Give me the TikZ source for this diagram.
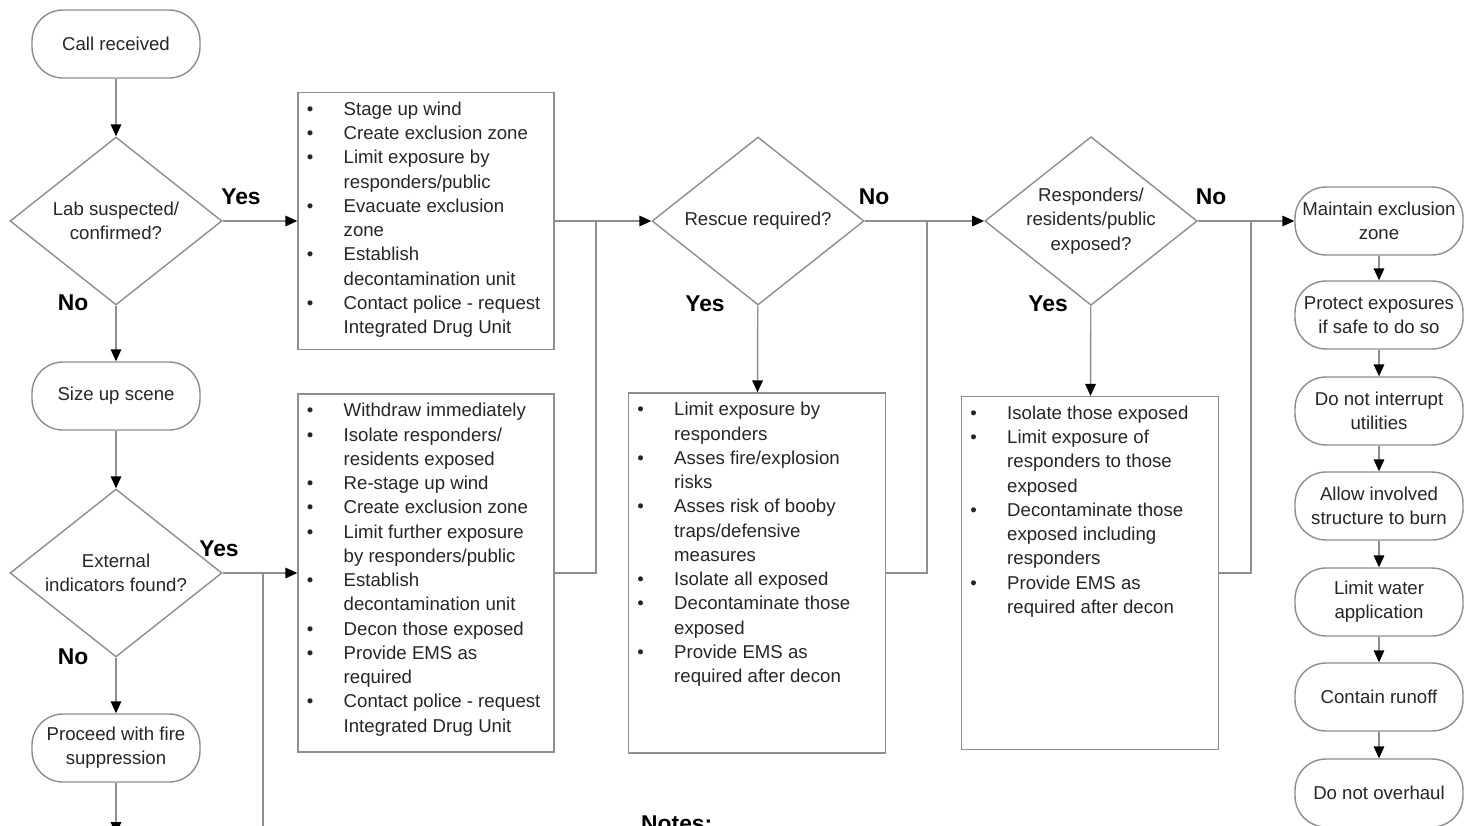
\documentclass[tikz,border=0pt]{standalone}
\usepackage{fontspec}
\setmainfont{Liberation Sans}
\usetikzlibrary{shapes.geometric,arrows.meta}
\definecolor{linegray}{HTML}{8E8E8E}
\definecolor{inkgray}{HTML}{262626}
% bullet list inside a fixed size action box
\newcommand{\actionlist}[3]{\parbox[c][#2][t]{#1}{\vspace*{3.4pt}\begin{tabular}{@{\hspace{5pt}}p{21pt}@{}l@{}}#3\end{tabular}}}
\begin{document}
\begin{tikzpicture}
    [x=0.02cm, y=-0.02cm,
     every node/.style={font=\fontsize{10.6}{13.8}\selectfont, text=inkgray},
     term/.style={draw=linegray, line width=0.8pt, rectangle, rounded corners=0.62cm, minimum width=3.36cm, minimum height=1.36cm, align=center, inner sep=1pt},
     decide/.style={draw=linegray, line width=0.8pt, diamond, aspect=1.26, minimum width=4.24cm, minimum height=3.36cm, align=center, inner sep=0pt},
     action/.style={draw=linegray, line width=0.8pt, inner sep=0pt},
     ans/.style={font=\fontsize{13}{15}\selectfont\bfseries, text=black},
     wire/.style={draw=linegray, line width=0.8pt},
     flow/.style={wire, -{Triangle[length=6.8pt, width=6pt, color=black]}}]
    \fill[white] (0,0) rectangle (1469,825);
    \useasboundingbox (0,0) rectangle (1469,825);
    % Left column
    \node[term] (call) at (116,44) {Call received};
    \node[decide] (dlab) at (116,221) {Lab suspected/\\confirmed?};
    \node[term] (size) at (116,396) {Size up scene};
    \node[decide] (dext) at (116,573) {External\\indicators found?};
    \node[term] (proceed) at (116,748) {Proceed with fire\\suppression};
    % Action boxes
    \node[action] (box1) at (426,221) {\actionlist{5.12cm}{5.14cm}{%
        \textbullet & Stage up wind\\
        \textbullet & Create exclusion zone\\
        \textbullet & Limit exposure by\\
                    & responders/public\\
        \textbullet & Evacuate exclusion\\
                    & zone\\
        \textbullet & Establish\\
                    & decontamination unit\\
        \textbullet & Contact police - request\\
                    & Integrated Drug Unit}};
    \node[action] (box2) at (426,573) {\actionlist{5.12cm}{7.16cm}{%
        \textbullet & Withdraw immediately\\
        \textbullet & Isolate responders/\\
                    & residents exposed\\
        \textbullet & Re-stage up wind\\
        \textbullet & Create exclusion zone\\
        \textbullet & Limit further exposure\\
                    & by responders/public\\
        \textbullet & Establish\\
                    & decontamination unit\\
        \textbullet & Decon those exposed\\
        \textbullet & Provide EMS as\\
                    & required\\
        \textbullet & Contact police - request\\
                    & Integrated Drug Unit}};
    \node[decide] (dres) at (758,221) {Rescue required?};
    \node[action] (box3) at (757,573) {\actionlist{5.14cm}{7.2cm}{%
        \textbullet & Limit exposure by\\
                    & responders\\
        \textbullet & Asses fire/explosion\\
                    & risks\\
        \textbullet & Asses risk of booby\\
                    & traps/defensive\\
                    & measures\\
        \textbullet & Isolate all exposed\\
        \textbullet & Decontaminate those\\
                    & exposed\\
        \textbullet & Provide EMS as\\
                    & required after decon}};
    \node[decide] (dexp) at (1091,221) {Responders/\\residents/public\\exposed?};
    \node[action] (box4) at (1090,573) {\actionlist{5.14cm}{7.06cm}{%
        \textbullet & Isolate those exposed\\
        \textbullet & Limit exposure of\\
                    & responders to those\\
                    & exposed\\
        \textbullet & Decontaminate those\\
                    & exposed including\\
                    & responders\\
        \textbullet & Provide EMS as\\
                    & required after decon}};
    % Right column
    \node[term] (keep) at (1379,221) {Maintain exclusion\\zone};
    \node[term] (protect) at (1379,315) {Protect exposures\\if safe to do so};
    \node[term] (utility) at (1379,411) {Do not interrupt\\utilities};
    \node[term] (burn) at (1379,506) {Allow involved\\structure to burn};
    \node[term] (water) at (1379,602) {Limit water\\application};
    \node[term] (runoff) at (1379,697) {Contain runoff};
    \node[term] (overhaul) at (1379,793) {Do not overhaul};
    \node[ans, anchor=base west] (notes) at (635,831) {Notes:};
    % Answers
    \node[ans] at (241,197) {Yes};
    \node[ans] at (73,303) {No};
    \node[ans] at (219,549) {Yes};
    \node[ans] at (73,657) {No};
    \node[ans] at (874,197) {No};
    \node[ans] at (705,304) {Yes};
    \node[ans] at (1211,197) {No};
    \node[ans] at (1048,304) {Yes};
    % Junctions and loose ends
    \coordinate (j0) at (263,573);
    \coordinate (j1) at (596,221);
    \coordinate (j2) at (927,221);
    \coordinate (j3) at (1251,221);
    \coordinate (enda) at (116,834);
    \coordinate (endb) at (263,840);
    % Connectors
    \draw[flow] (call) -- (dlab);
    \draw[flow] (dlab) -- (box1);
    \draw[flow] (dlab) -- (size);
    \draw[flow] (size) -- (dext);
    \draw[flow] (dext) -- (box2);
    \draw[flow] (dext) -- (proceed);
    \draw[flow] (proceed) -- (enda);
    \draw[wire] (j0) -- (endb);
    \draw[flow] (box1) -- (dres);
    \draw[wire] (box2) -| (j1);
    \draw[flow] (dres) -- (dexp);
    \draw[flow] (dres) -- (box3);
    \draw[wire] (box3) -| (j2);
    \draw[flow] (dexp) -- (keep);
    \draw[flow] (dexp) -- (box4);
    \draw[wire] (box4) -| (j3);
    \foreach \a/\b in {keep/protect, protect/utility, utility/burn, burn/water, water/runoff, runoff/overhaul}
        \draw[flow] (\a) -- (\b);
\end{tikzpicture}
\end{document}
